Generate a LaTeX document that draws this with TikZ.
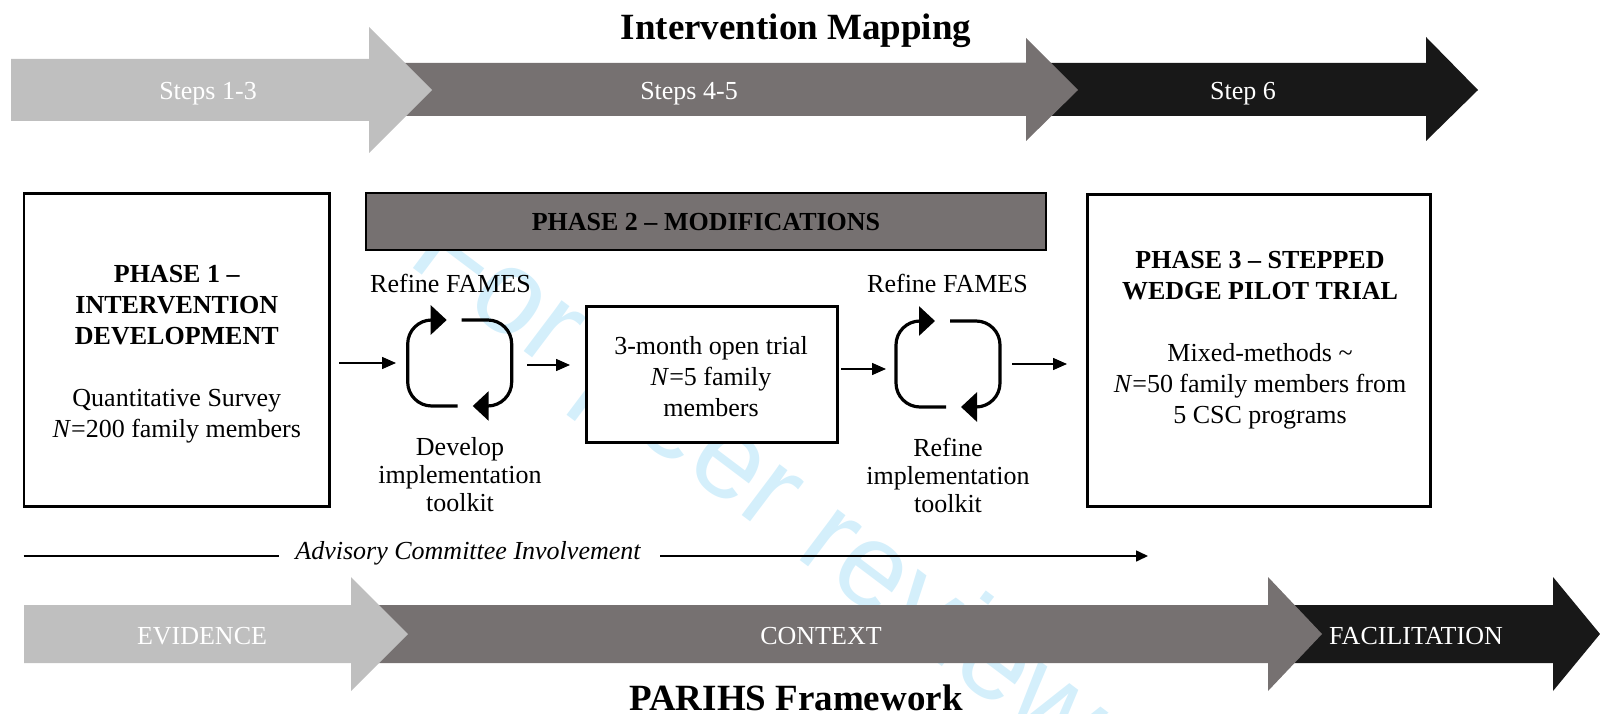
\documentclass[tikz,border=0pt]{standalone}
\usepackage{fontspec}
\setmainfont{Liberation Serif}
\newfontfamily\wmfont{Liberation Sans}
\usetikzlibrary{arrows.meta,calc}

\definecolor{stepLight}{HTML}{BFBFBF}
\definecolor{stepMid}{HTML}{767171}
\definecolor{stepDark}{HTML}{181818}
\definecolor{wmblue}{RGB}{212,239,251}

\tikzset{
  bodytext/.style={font=\fontsize{26}{31}\selectfont, align=center, inner sep=0pt},
  looptext/.style={font=\fontsize{26}{28}\selectfont, align=center, inner sep=0pt},
  bandtext/.style={font=\fontsize{26}{31}\selectfont, text=white, inner sep=0pt},
  bigtitle/.style={font=\fontsize{37}{44}\selectfont\bfseries, inner sep=0pt},
  phasebox/.style={draw, line width=2.8pt, fill=white, inner sep=0pt},
  trialbox/.style={draw, line width=3.3pt, fill=white, inner sep=0pt},
  phasebar/.style={draw, line width=2pt, fill=stepMid, inner sep=0pt},
  flow/.style={line width=1.5pt, -{Triangle[length=14pt,width=12pt]}},
  advline/.style={line width=1.6pt},
  loopline/.style={line width=3.2pt, rounded corners=24pt, -{Triangle[length=16pt,width=29pt]}},
  refineloop/.pic={
    \draw[loopline] (-2,43) -- (-52,43) -- (-52,-43) -- (-13,-43);
    \draw[loopline] (2,-43) -- (52,-43) -- (52,43) -- (13,43);
  },
  watermark/.style={font=\wmfont\fontsize{120}{120}\selectfont, text=wmblue, inner sep=0pt}
}

\begin{document}
\begin{tikzpicture}[x=1pt,y=-1pt]
\useasboundingbox (0,0) rectangle (1600,714);

% faint diagonal watermark
\begin{scope}
  \clip (0,0) rectangle (1600,714);
  \node[watermark, anchor=base west, rotate=-37] (wm) at (405,262) {For peer review};
\end{scope}

% ---- Intervention Mapping band ----
\fill[stepDark] (1000,63) -- (1426,63) -- (1426,37) -- (1478,90) -- (1426,141) -- (1426,116) -- (1000,116) -- cycle;
\fill[stepMid] (360,63) -- (1026,63) -- (1026,38) -- (1078,90) -- (1026,141) -- (1026,116) -- (360,116) -- cycle;
\fill[stepLight] (11,59) -- (369,59) -- (369,27) -- (432,90) -- (369,153) -- (369,121) -- (11,121) -- cycle;
\node[bandtext] (s13) at (208,94) {Steps 1-3};
\node[bandtext] (s45) at (689,94) {Steps 4-5};
\node[bandtext] (s6) at (1243,94) {Step 6};
\node[bigtitle] (imtitle) at (796,31) {Intervention Mapping};

% ---- Phase boxes ----
\node[phasebox, minimum width=305.5pt, minimum height=313pt] (p1) at (176.8,350.2) {};
\node[bodytext] (p1text) at (176.8,354) {\textbf{PHASE 1 –}\\\textbf{INTERVENTION}\\\textbf{DEVELOPMENT}\\[31pt]Quantitative Survey\\\textit{N}=200 family members};

\node[phasebar, minimum width=680pt, minimum height=57pt] (p2) at (705.5,221.5) {};
\node[bodytext, font=\fontsize{26}{31}\selectfont\bfseries] (p2text) at (706,222) {PHASE 2 – MODIFICATIONS};

\node[phasebox, minimum width=343pt, minimum height=312pt] (p3) at (1258.9,350.5) {};
\node[bodytext] (p3text) at (1260,340) {\textbf{PHASE 3 – STEPPED}\\\textbf{WEDGE PILOT TRIAL}\\[31pt]Mixed-methods \char"007E\\\textit{N}=50 family members from\\5 CSC programs};

\node[trialbox, minimum width=251pt, minimum height=136pt] (trial) at (712,374.5) {};
\node[bodytext] (trialtext) at (711,377) {3-month open trial\\\textit{N}=5 family\\members};

% ---- refinement loops ----
\pic (loopA) at (459.7,363) {refineloop};
\pic (loopB) at (948,364) {refineloop};
\node[looptext] (fames1) at (450.5,283) {Refine FAMES};
\node[looptext] (fames2) at (947.5,283) {Refine FAMES};
\node[looptext] (kit1) at (460,475) {Develop\\implementation\\toolkit};
\node[looptext] (kit2) at (948,475) {Refine\\implementation\\toolkit};

% ---- flow arrows ----
\coordinate (f1s) at (339,363);  \coordinate (f1e) at (396,363);
\coordinate (f2s) at (527,365);  \coordinate (f2e) at (570,365);
\coordinate (f3s) at (841,369);  \coordinate (f3e) at (886,369);
\coordinate (f4s) at (1012,364); \coordinate (f4e) at (1067,364);
\draw[flow] (f1s) -- (f1e);
\draw[flow] (f2s) -- (f2e);
\draw[flow] (f3s) -- (f3e);
\draw[flow] (f4s) -- (f4e);

% ---- advisory committee timeline ----
\node[font=\fontsize{26}{31}\selectfont\itshape, inner sep=0pt] (adv) at (468,553) {Advisory Committee Involvement};
\coordinate (advA) at (23.5,556); \coordinate (advB) at (279,556);
\coordinate (advC) at (660,556);  \coordinate (advD) at (1148,556);
\draw[advline] (advA) -- (advB);
\draw[advline, -{Triangle[length=12pt,width=11pt]}] (advC) -- (advD);

% ---- PARIHS band ----
\fill[stepDark] (1290,605) -- (1553,605) -- (1553,577) -- (1600,634) -- (1553,691) -- (1553,663) -- (1290,663) -- cycle;
\fill[stepMid] (360,605) -- (1268,605) -- (1268,577) -- (1322,634) -- (1268,691) -- (1268,663) -- (360,663) -- cycle;
\fill[stepLight] (24,605) -- (351,605) -- (351,577) -- (408,634) -- (351,691) -- (351,663) -- (24,663) -- cycle;
\node[bandtext] (ev) at (202,636) {EVIDENCE};
\node[bandtext] (ctx) at (821,636) {CONTEXT};
\node[bandtext] (fac) at (1416,636) {FACILITATION};
\node[bigtitle] (parihs) at (796,698) {PARIHS Framework};
\end{tikzpicture}
\end{document}
